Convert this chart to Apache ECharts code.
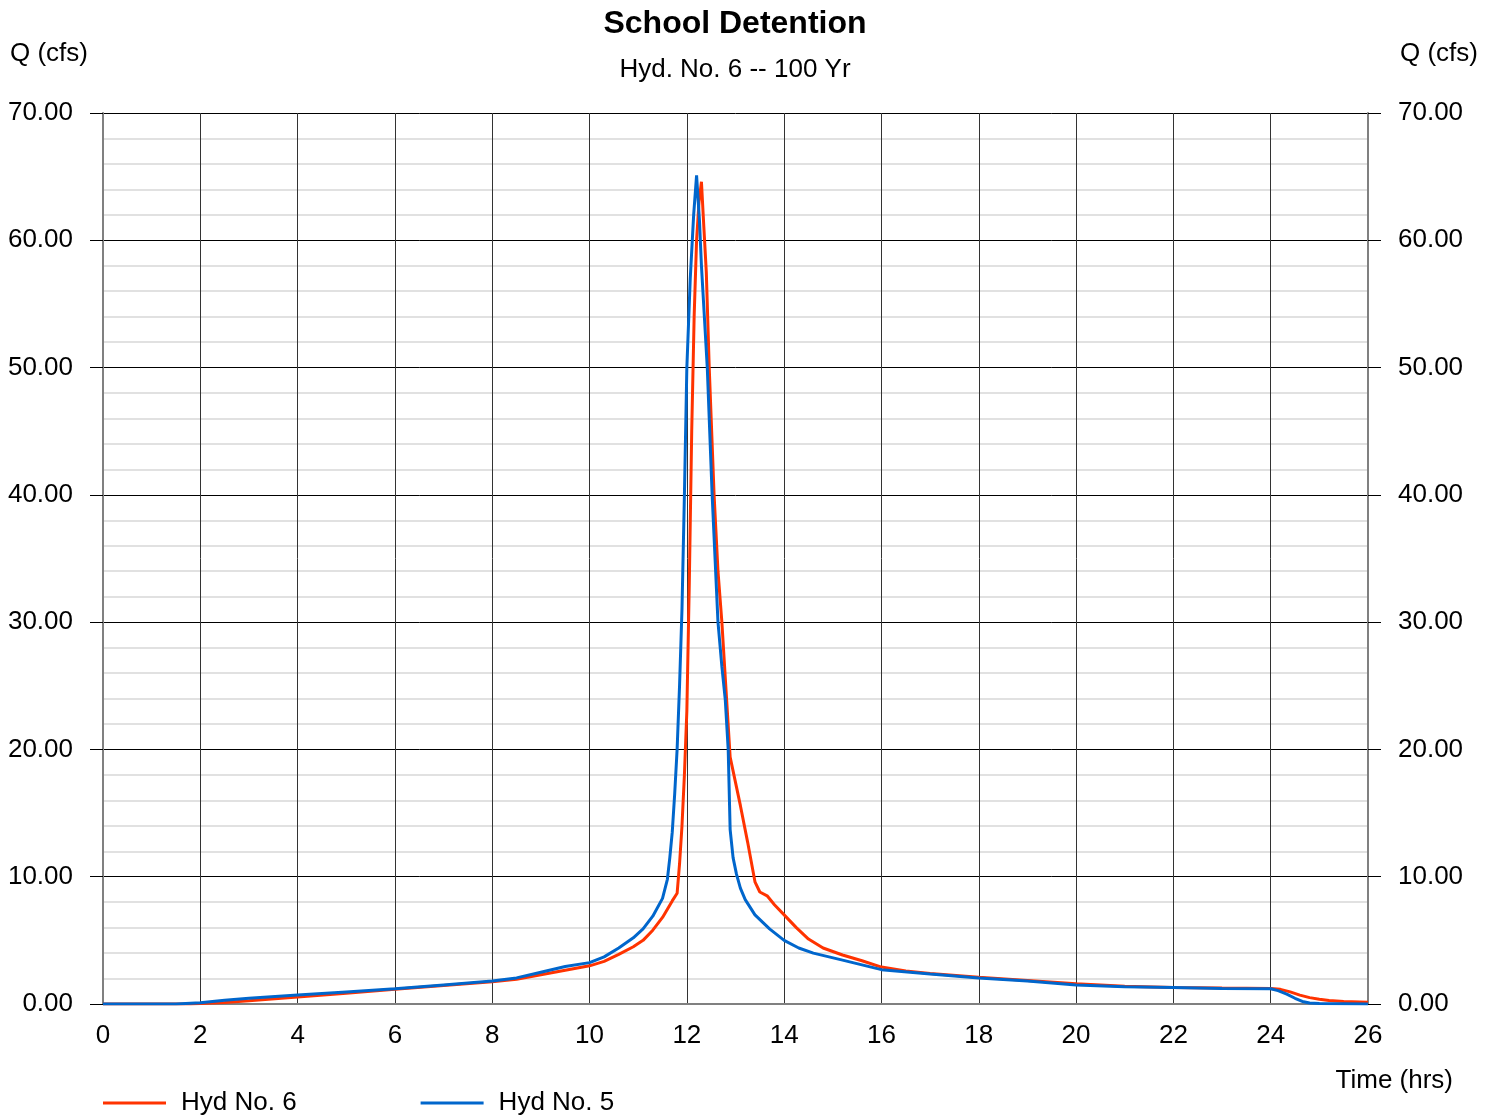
<!DOCTYPE html>
<html>
<head>
<meta charset="utf-8">
<script src="https://cdn.jsdelivr.net/npm/echarts@6/dist/echarts.min.js"></script>
<style>
html,body{margin:0;padding:0;background:#fff;}
#chart{width:1497px;height:1118px;}
</style>
</head>
<body>
<div id="chart"></div>
<script>
// ---- data ----
const titleText = 'School Detention';
const subtitleText = 'Hyd. No. 6 -- 100 Yr';
const yAxisName = 'Q (cfs)';
const xAxisName = 'Time (hrs)';
const seriesNames = ['Hyd No. 6', 'Hyd No. 5'];

// Hyd No. 6 (red)
const t6 = [0, 1.8, 2, 2.5, 3, 4, 5, 6, 7, 8, 8.5, 9, 9.5, 10, 10.3, 10.6, 10.9, 11.1, 11.3, 11.5, 11.7, 11.8, 11.85, 11.9, 11.95, 12.0, 12.05, 12.1, 12.15, 12.2, 12.25, 12.3, 12.35, 12.4, 12.46, 12.56, 12.64, 12.72, 12.8, 12.89, 13.1, 13.25, 13.4, 13.5, 13.65, 13.8, 14.0, 14.25, 14.5, 14.8, 15.2, 15.6, 16, 16.5, 17, 18, 19, 20, 21, 22, 23, 24, 24.2, 24.4, 24.6, 24.8, 25.0, 25.2, 25.5, 26];
const q6 = [0, 0, 0.03, 0.12, 0.25, 0.55, 0.85, 1.15, 1.45, 1.75, 1.95, 2.3, 2.65, 3.0, 3.35, 3.9, 4.5, 5.0, 5.8, 6.8, 8.1, 8.7, 11, 14, 18, 23, 33, 45, 54, 60, 63, 64.6, 61, 57.5, 50, 40, 34, 30, 25, 19.4, 15.6, 12.7, 9.6, 8.8, 8.5, 7.8, 7.0, 6.0, 5.1, 4.4, 3.85, 3.4, 2.9, 2.6, 2.4, 2.1, 1.85, 1.6, 1.4, 1.3, 1.25, 1.22, 1.15, 0.95, 0.7, 0.5, 0.38, 0.28, 0.2, 0.13];

// Hyd No. 5 (blue)
const t5 = [0, 1.5, 2, 2.5, 3, 4, 5, 6, 7, 8, 8.5, 9, 9.5, 10, 10.3, 10.6, 10.9, 11.1, 11.3, 11.5, 11.6, 11.65, 11.7, 11.75, 11.8, 11.85, 11.9, 11.95, 12.0, 12.07, 12.14, 12.2, 12.26, 12.3, 12.36, 12.42, 12.52, 12.64, 12.72, 12.79, 12.85, 12.89, 12.95, 13.02, 13.1, 13.2, 13.4, 13.7, 14.0, 14.3, 14.6, 15.2, 16, 17, 18, 19, 20, 21, 22, 23, 24, 24.15, 24.33, 24.5, 24.65, 24.8, 25.0, 26];
const q5 = [0, 0, 0.1, 0.3, 0.45, 0.7, 0.95, 1.2, 1.5, 1.8, 2.05, 2.5, 2.95, 3.25, 3.7, 4.4, 5.2, 5.9, 6.9, 8.3, 9.8, 11.5, 13.5, 16.5, 20, 25, 31, 40, 50, 57, 62, 65.1, 61.5, 58, 54, 50, 40, 30, 26.5, 23.9, 20, 13.7, 11.5, 10.2, 9.1, 8.2, 7.0, 5.9, 5.0, 4.4, 4.0, 3.45, 2.7, 2.35, 2.05, 1.8, 1.5, 1.35, 1.3, 1.22, 1.2, 1.05, 0.78, 0.45, 0.2, 0.08, 0.03, 0];

const xMin = 0, xMax = 26, xStep = 2;
const yMin = 0, yMax = 70, yStep = 10;

// ---- chart ----
const FONT = '"Liberation Sans", Arial, Helvetica, sans-serif';
const chart = echarts.init(document.getElementById('chart'), null, {renderer: 'canvas'});

function pairs(t, q) { return t.map((v, i) => [v, q[i]]); }

const yAxisCommon = {
  type: 'value', min: yMin, max: yMax, interval: yStep,
  axisLine: {show: true, lineStyle: {color: '#808080', width: 2}},
  axisTick: {show: true, inside: false, length: 13, lineStyle: {color: '#000', width: 1}},
  axisLabel: {fontSize: 26, color: '#000', fontFamily: FONT, margin: 30, lineHeight: 26, padding: [5, 0, 0, 0], formatter: v => v.toFixed(2)}
};

const option = {
  backgroundColor: '#fff',
  animation: false,
  textStyle: {fontFamily: FONT},
  grid: {left: 103, right: 129, top: 113, bottom: 114, containLabel: false},
  xAxis: {
    type: 'value', min: xMin, max: xMax, interval: xStep,
    axisLine: {show: true, onZero: false, lineStyle: {color: '#808080', width: 2}},
    axisTick: {show: false},
    axisLabel: {fontSize: 26, color: '#000', fontFamily: FONT, margin: 19},
    splitLine: {show: true, lineStyle: {color: '#333', width: 1}}
  },
  yAxis: [
    Object.assign({}, yAxisCommon, {
      position: 'left',
      splitLine: {show: true, lineStyle: {color: '#000', width: 1}},
      minorTick: {show: false, splitNumber: 5},
      minorSplitLine: {show: true, lineStyle: {color: '#d8d8d8', width: 1.5}}
    }),
    Object.assign({}, yAxisCommon, {
      position: 'right',
      splitLine: {show: false}
    })
  ],
  legend: {
    left: 98, top: 1085,
    itemWidth: 63, itemHeight: 14, itemGap: 124,
    icon: 'path://M0,6 L63,6 L63,9 L0,9 Z',
    textStyle: {fontSize: 26, color: '#000', fontFamily: FONT, padding: [0, 0, 0, 10]},
    data: seriesNames
  },
  series: [
    {
      name: seriesNames[0], type: 'line', yAxisIndex: 0,
      data: pairs(t6, q6), symbol: 'none', smooth: false,
      lineStyle: {color: '#ff3300', width: 3}, itemStyle: {color: '#ff3300'}, z: 3
    },
    {
      name: seriesNames[1], type: 'line', yAxisIndex: 0,
      data: pairs(t5, q5), symbol: 'none', smooth: false,
      lineStyle: {color: '#0066cc', width: 3}, itemStyle: {color: '#0066cc'}, z: 4
    }
  ],
  graphic: [
    {type: 'text', x: 735, y: 24, style: {text: titleText, font: 'bold 32px ' + FONT, fill: '#000', textAlign: 'center', textVerticalAlign: 'middle'}},
    {type: 'text', x: 735, y: 70, style: {text: subtitleText, font: '26px ' + FONT, fill: '#000', textAlign: 'center', textVerticalAlign: 'middle'}},
    {type: 'text', x: 10, y: 54, style: {text: yAxisName, font: '26px ' + FONT, fill: '#000', textAlign: 'left', textVerticalAlign: 'middle'}},
    {type: 'text', x: 1478, y: 54, style: {text: yAxisName, font: '26px ' + FONT, fill: '#000', textAlign: 'right', textVerticalAlign: 'middle'}},
    {type: 'text', x: 1453, y: 1081, style: {text: xAxisName, font: '26px ' + FONT, fill: '#000', textAlign: 'right', textVerticalAlign: 'middle'}}
  ]
};
chart.setOption(option);
</script>
</body>
</html>
